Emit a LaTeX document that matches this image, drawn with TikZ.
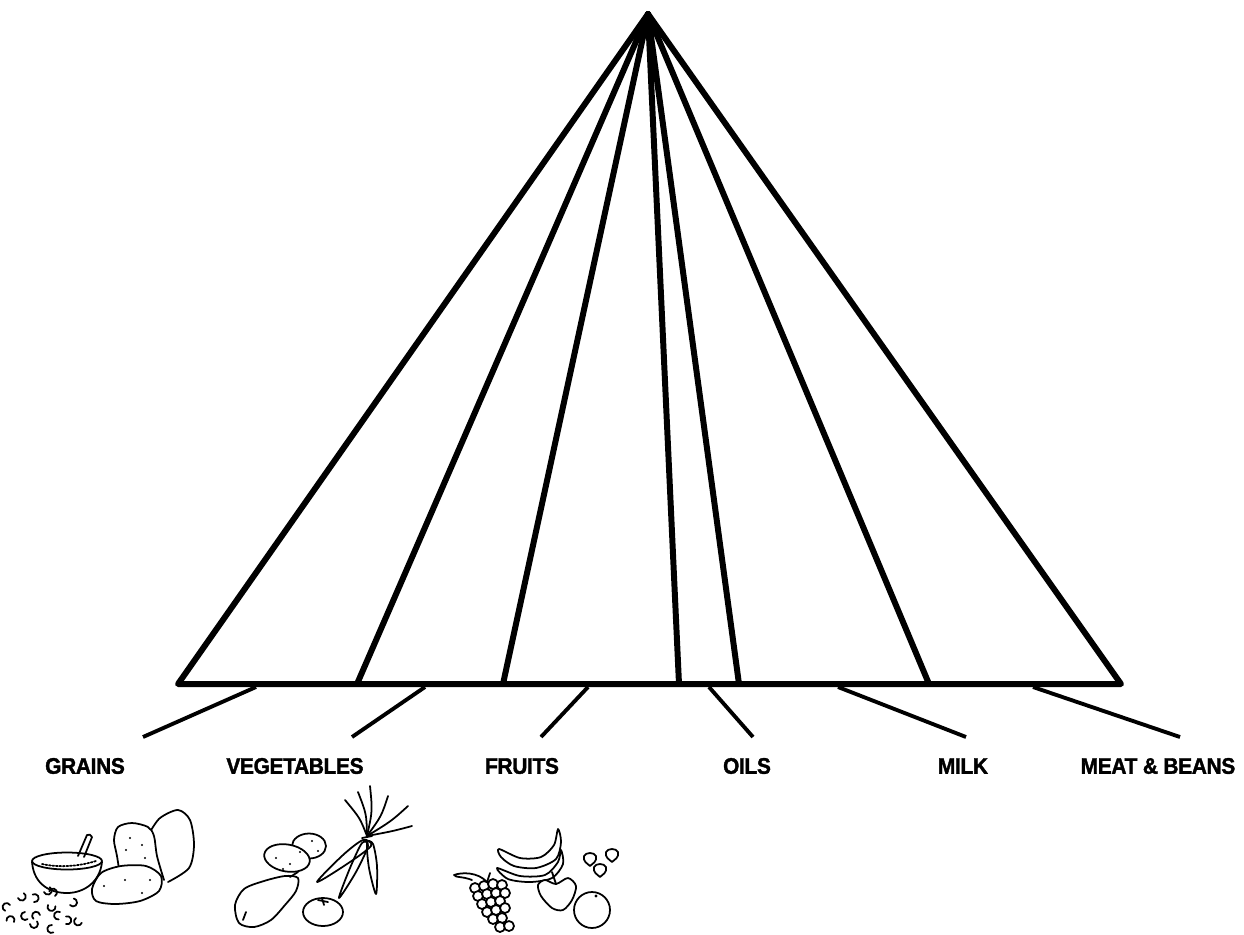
\documentclass[tikz,border=0pt]{standalone}
\usepackage{fontspec}
\usetikzlibrary{calc}
\newfontfamily\labelfont{Liberation Sans}[FakeStretch=0.93,LetterSpace=-1.5,FakeBold=1.6]

\tikzset{
  pyrline/.style={line width=3.4pt, line cap=round, line join=round},
  leader/.style={line width=2.2pt},
  grouplabel/.style={font=\labelfont\bfseries\fontsize{12.8}{14}\selectfont, inner sep=0pt},
  sketch/.style={line width=1pt, line cap=round, line join=round},
}

\begin{document}
\begin{tikzpicture}[x=0.02cm, y=-0.02cm]
  \useasboundingbox (0,0) rectangle (1244,934);

  % Apex and base points of the pyramid
  \coordinate (apex) at (648,14);
  \coordinate (b1) at (178,684);
  \coordinate (b2) at (357,684);
  \coordinate (b3) at (503,684);
  \coordinate (b4) at (679,684);
  \coordinate (b5) at (739,684);
  \coordinate (b6) at (929,684);
  \coordinate (b7) at (1121,684);

  % Pyramid outline and the bands
  \draw[pyrline] (b1) -- (apex) -- (b7) -- cycle;
  \foreach \b in {b2,b3,b4,b5,b6}
    \draw[pyrline] (apex) -- (\b);
  \fill (apex) -- ++(-14,20) -- ++(28,0) -- cycle;

  % Group labels
  \node[grouplabel] (grains) at (85,766) {GRAINS};
  \node[grouplabel] (veg)    at (295,766) {VEGETABLES};
  \node[grouplabel] (fruits) at (522,766) {FRUITS};
  \node[grouplabel] (oils)   at (747,766) {OILS};
  \node[grouplabel] (milk)   at (963,766) {MILK};
  \node[grouplabel] (meat)   at (1158,766) {MEAT \& BEANS};

  % Leader lines from the base to the labels
  \coordinate (l1) at (256,687);  \coordinate (e1) at (143,737);
  \coordinate (l2) at (425,687);  \coordinate (e2) at (352,737);
  \coordinate (l3) at (588,687);  \coordinate (e3) at (541,737);
  \coordinate (l4) at (709,687);  \coordinate (e4) at (753,737);
  \coordinate (l5) at (838,687);  \coordinate (e5) at (966,737);
  \coordinate (l6) at (1033,687); \coordinate (e6) at (1180,737);
  \foreach \i in {1,...,6}
    \draw[leader] (l\i) -- (e\i);

  % --- grains: bowl, bread, pasta ---
  \draw[sketch] (32,862) .. controls (34,886) and (52,893) .. (67,893)
                          .. controls (84,893) and (100,882) .. (102,862);
  \draw[sketch] (67,861) ellipse [x radius=0.7cm, y radius=0.17cm];
  \draw[sketch, densely dotted] (42,864) .. controls (60,868) and (80,866) .. (96,861);
  \draw[sketch] (78,856) -- (87,835) to[bend left=60] (92,837) -- (84,857);
  \draw[sketch] plot[smooth] coordinates {(150,832) (160,818) (178,810) (190,820) (194,845) (189,868) (168,882)};
  \filldraw[sketch, fill=white] plot[smooth] coordinates {(121,882) (117,856) (114,840) (118,827) (132,823) (148,827) (154,836) (157,856) (164,880)};
  \filldraw[sketch, fill=white] plot[smooth cycle] coordinates {(92,889) (101,873) (121,866) (146,866) (161,876) (159,891) (140,901) (115,904) (96,901)};
  \foreach \dx/\dy in {130/838, 142/845, 126/850, 145/858, 104/886, 125/880, 142/893, 150/880}
    \fill (\dx,\dy) circle (0.7pt);
  \foreach \px/\py/\ang in {10/905/30, 18/898/200, 25/912/90, 34/902/260, 40/915/10,
                            48/905/150, 55/896/300, 60/912/60, 70/905/220, 76/918/120,
                            14/922/330, 30/924/180, 52/925/80, 66/924/250, 44/892/200}
    \draw[sketch] (\px,\py) arc[start angle=\ang, delta angle=220, radius=0.08cm];

  % --- vegetables: potatoes, carrots, eggplant, tomato ---
  \filldraw[sketch, fill=white] (309,846) ellipse [x radius=0.34cm, y radius=0.25cm];
  \filldraw[sketch, fill=white, rotate around={-10:(287,858)}] (287,858) ellipse [x radius=0.46cm, y radius=0.27cm];
  \foreach \dx/\dy in {276/858, 290/864, 300/852, 312/841, 318/851, 283/869}
    \fill (\dx,\dy) circle (0.7pt);
  \draw[sketch] plot[smooth cycle] coordinates {(363,840) (343,855) (317,882) (347,864) (371,846)};
  \draw[sketch] plot[smooth cycle] coordinates {(362,843) (350,868) (339,898) (356,872) (368,846)};
  \draw[sketch] plot[smooth cycle] coordinates {(367,843) (369,868) (376,894) (377,866) (373,844)};
  \draw[sketch] (362,838) -- (372,836);
  \foreach \lx/\ly in {345/800, 358/792, 370/786, 388/796, 408/806, 412/826}
    \draw[sketch] (367,836) .. controls ($(367,836)!0.5!(\lx,\ly)+(4,0)$) .. (\lx,\ly);
  \draw[sketch] plot[smooth cycle] coordinates {(235,905) (244,889) (264,881) (285,876) (298,878) (296,891) (285,905) (271,920) (254,927) (239,923)};
  \draw[sketch] (290,877) -- (298,872) (246,912) -- (243,920);
  \draw[sketch] (323,912) ellipse [x radius=0.4cm, y radius=0.28cm];
  \draw[sketch] (318,900) -- (328,902) (322,898) -- (324,905);

  % --- fruits: bananas, grapes, apple, orange, strawberries ---
  \draw[sketch] plot[smooth cycle] coordinates {(499,849) (520,858) (541,857) (554,845) (558,829) (561,842) (556,859) (536,868) (514,866) (501,857)};
  \draw[sketch] plot[smooth cycle] coordinates {(497,868) (520,876) (545,875) (558,862) (561,850) (563,864) (552,878) (530,882) (508,879)};
  \draw[sketch] (472,880) .. controls (462,876) and (456,878) .. (454,875)
                .. controls (462,872) and (478,872) .. (487,882);
  \draw[sketch] (487,882) -- (490,873);
  \foreach \gx/\gy in {475/888, 484/886, 493/884, 502/885, 478/896, 487/894, 496/893, 505/893,
                       482/904, 491/902, 500/901, 487/912, 496/910, 505/908, 493/919, 502/918, 500/927, 509/926}
    \filldraw[sketch, fill=white] (\gx,\gy) circle[radius=0.1cm];
  \filldraw[sketch, fill=white] plot[smooth cycle] coordinates {(545,880) (556,884) (568,878) (576,886) (572,900) (563,910) (552,908) (541,896) (538,885)};
  \draw[sketch] (556,884) -- (552,872);
  \draw[sketch] (592,910) circle[radius=0.36cm];
  \fill (596,896) circle (0.9pt);
  \foreach \sx/\sy in {590/860, 600/871, 612/856}
    \draw[sketch] (\sx,\sy) ++(-6,-4) .. controls ++(2,-4) and ++(-2,-4) .. ++(12,0)
                  .. controls ++(1,6) and ++(3,-3) .. ++(-6,10)
                  .. controls ++(-3,-3) and ++(-1,6) .. cycle;
\end{tikzpicture}
\end{document}
